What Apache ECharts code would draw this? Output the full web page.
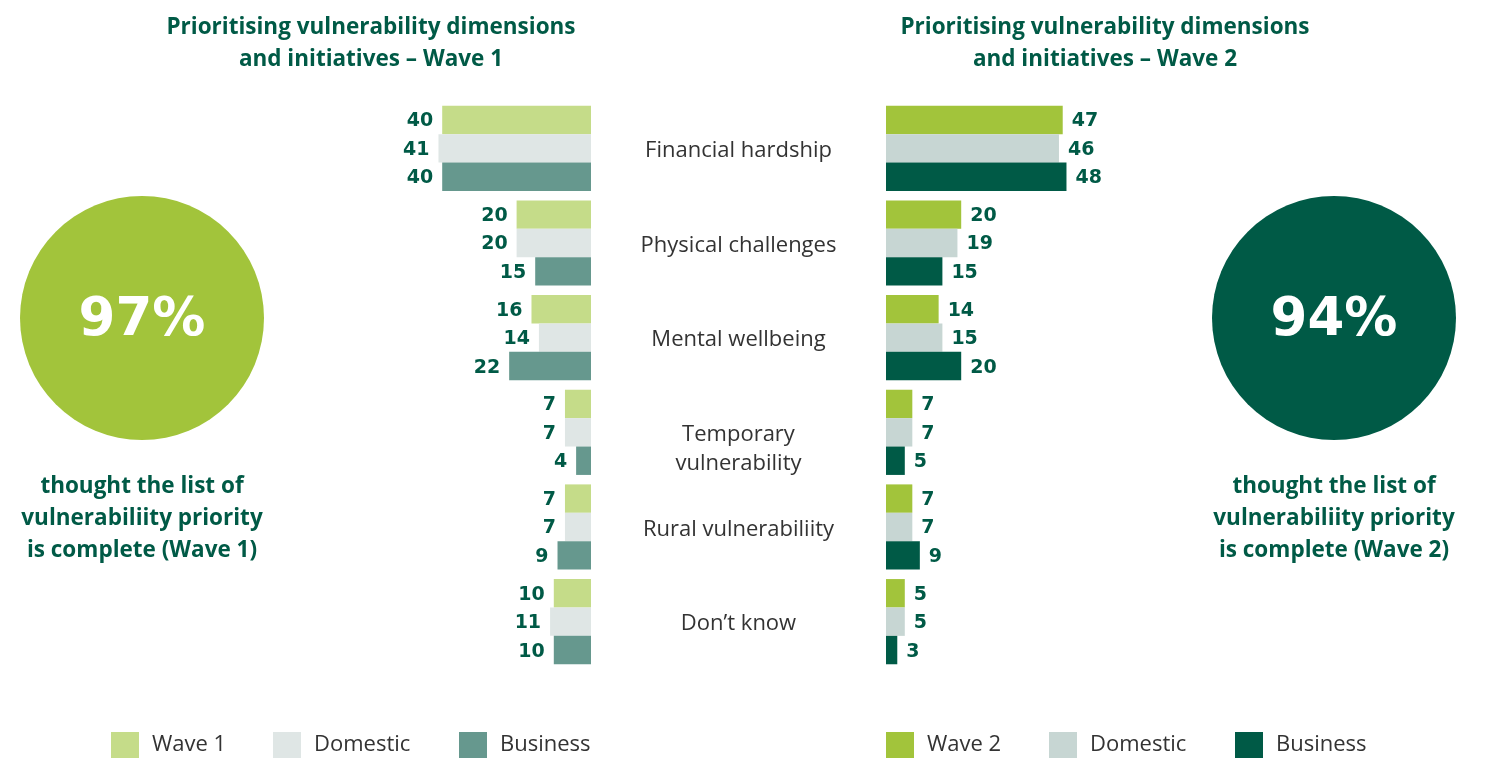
<!DOCTYPE html>
<html><head><meta charset="utf-8">
<script src="https://cdn.jsdelivr.net/npm/echarts@6/dist/echarts.min.js"></script>
<style>html,body{margin:0;padding:0;background:#fff}#c{width:1491px;height:758px}</style>
</head><body><div id="c"></div>
<script>
const categories = ['Financial hardship','Physical challenges','Mental wellbeing','Temporary\nvulnerability','Rural vulnerabiliity','Don\u2019t know'];
const wave1Total = [40,20,16,7,7,10];
const wave1Domestic = [41,20,14,7,7,11];
const wave1Business = [40,15,22,4,9,10];
const wave2Total = [47,20,14,7,7,5];
const wave2Domestic = [46,19,15,7,7,5];
const wave2Business = [48,15,20,5,9,3];
const completeW1 = 97;
const completeW2 = 94;
const legendLeft = ['Wave 1','Domestic','Business'];
const legendRight = ['Wave 2','Domestic','Business'];
const titleLeft = 'Prioritising vulnerability dimensions\nand initiatives \u2013 Wave 1';
const titleRight = 'Prioritising vulnerability dimensions\nand initiatives \u2013 Wave 2';
const noteLeft = 'thought the list of\nvulnerabiliity priority\nis complete (Wave 1)';
const noteRight = 'thought the list of\nvulnerabiliity priority\nis complete (Wave 2)';

const FONT = 'Open Sans';
const NUMFONT = 'DejaVu Sans';
const DG = '#005a46';
const colL = ['#c5dc89','#dfe6e5','#66988e'];
const colR = ['#a2c43b','#c7d6d3','#005a46'];

const chart = echarts.init(document.getElementById('c'));
const gridTop = 101, gridH = 568;
const labelStyle = {show:true, color:DG, fontFamily:NUMFONT, fontWeight:'bold', fontSize:19, distance:9, offset:[0,1.5]};

function barSeries(name, data, color, idx, pos){
  return {type:'bar', name, data, xAxisIndex:idx, yAxisIndex:idx,
    barGap:'0%', barCategoryGap:'10%', itemStyle:{color}, silent:true,
    label:Object.assign({position:pos}, labelStyle)};
}
const nmL = ['Wave 1','Domestic W1','Business W1'];
const nmR = ['Wave 2','Domestic W2','Business W2'];
const pctLabel = {position:'center', color:'#fff', fontFamily:NUMFONT, fontWeight:'bold', fontSize:53, offset:[0,3]};
const series = [
  barSeries(nmL[0], wave1Total, colL[0], 0, 'left'),
  barSeries(nmL[1], wave1Domestic, colL[1], 0, 'left'),
  barSeries(nmL[2], wave1Business, colL[2], 0, 'left'),
  barSeries(nmR[0], wave2Total, colR[0], 1, 'right'),
  barSeries(nmR[1], wave2Domestic, colR[1], 1, 'right'),
  barSeries(nmR[2], wave2Business, colR[2], 1, 'right'),
  {type:'pie', radius:[0,122], center:[142,318], silent:true, data:[{value:completeW1, name:'W1 complete', itemStyle:{color:colR[0]}}],
    label:Object.assign({formatter: completeW1 + '%'}, pctLabel), labelLine:{show:false}},
  {type:'pie', radius:[0,122], center:[1334,318], silent:true, data:[{value:completeW2, name:'W2 complete', itemStyle:{color:colR[2]}}],
    label:Object.assign({formatter: completeW2 + '%'}, pctLabel), labelLine:{show:false}}
];

const legXL = [111,273,459], legXR = [886,1049,1235];
const legends = [];
const legText = {fontFamily:FONT, fontSize:22, color:'#333', padding:[0,0,0,8]};
legendLeft.forEach((t,i)=>legends.push({data:[nmL[i]], left:legXL[i], top:732, padding:0, itemWidth:28, itemHeight:26, icon:'rect', selectedMode:false,
  formatter:()=>t, textStyle:legText}));
legendRight.forEach((t,i)=>legends.push({data:[nmR[i]], left:legXR[i], top:732, padding:0, itemWidth:28, itemHeight:26, icon:'rect', selectedMode:false,
  formatter:()=>t, textStyle:legText}));

function txt(x,y,text,size,bold,color,lh){
  return {type:'text', x, y, style:{text, x:0, y:0, align:'center', verticalAlign:'top', fill:color,
    font:(bold?'bold ':'')+size+'px "'+FONT+'"', lineHeight:lh}};
}

chart.setOption({
  animation:false,
  grid:[
    {left:405, width:186, top:gridTop, height:gridH},
    {left:886, width:188, top:gridTop, height:gridH},
    {left:591, width:295, top:gridTop-12, height:gridH}
  ],
  xAxis:[
    {gridIndex:0, type:'value', min:0, max:50, inverse:true, show:false},
    {gridIndex:1, type:'value', min:0, max:50, show:false},
    {gridIndex:2, type:'value', min:0, max:50, show:false}
  ],
  yAxis:[
    {gridIndex:0, type:'category', data:categories, inverse:true, show:false},
    {gridIndex:1, type:'category', data:categories, inverse:true, show:false},
    {gridIndex:2, type:'category', data:categories, inverse:true, position:'left',
      axisLine:{show:false}, axisTick:{show:false}, splitLine:{show:false},
      axisLabel:{inside:true, margin:147.5, align:'center', verticalAlign:'top', fontFamily:FONT, fontSize:22, color:'#333', lineHeight:29}}
  ],
  legend:legends,
  series,
  graphic:[
    txt(371,12,titleLeft,22.5,true,DG,32),
    txt(1105,12,titleRight,22.5,true,DG,32),
    txt(142,471,noteLeft,22.5,true,DG,32),
    txt(1334,471,noteRight,22.5,true,DG,32)
  ]
});
</script></body></html>
